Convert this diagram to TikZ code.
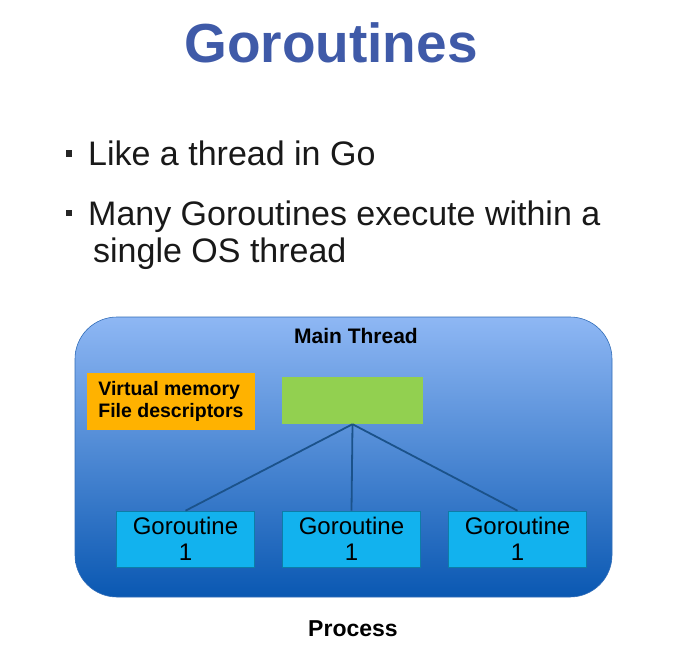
\documentclass[tikz,border=0pt]{standalone}
\usepackage{fontspec}
\setmainfont{Liberation Sans}
\usepackage{xcolor}
\usetikzlibrary{shapes.geometric, arrows}
\definecolor{titleblue}{HTML}{3F5AA8}
\definecolor{boxtop}{HTML}{8EB7F4}
\definecolor{boxmid}{HTML}{3A80D9}
\definecolor{boxbottom}{HTML}{0A58B2}
\definecolor{goblue}{HTML}{12B2EE}
\definecolor{linkblue}{HTML}{1B528A}
\definecolor{memorange}{HTML}{FFB200}
\definecolor{stackgreen}{HTML}{92D050}
\tikzstyle{processbox} = [rectangle,
    rounded corners=42pt,
    minimum width=537pt,
    minimum height=280pt,
    draw=boxmid!85!black,
    line width=0.6pt,
    top color=boxtop,
    middle color=boxmid,
    bottom color=boxbottom]
\tikzstyle{goroutine} = [rectangle,
    minimum width=138pt,
    minimum height=56pt,
    inner sep=2pt,
    align=center,
    draw=goblue!70!black,
    line width=0.6pt,
    fill=goblue,
    font=\fontsize{24}{26}\selectfont]
\tikzstyle{memory} = [rectangle,
    minimum width=168pt,
    minimum height=57pt,
    inner xsep=10pt,
    align=left,
    fill=memorange,
    font=\bfseries\fontsize{19.5}{22}\selectfont]
\tikzstyle{stack} = [rectangle,
    minimum width=141pt,
    minimum height=47pt,
    fill=stackgreen]
\tikzstyle{bulletsq} = [rectangle,
    minimum size=6.5pt,
    inner sep=0pt,
    fill=black!85]
\tikzstyle{bullettext} = [anchor=base west,
    inner sep=0pt,
    text=black!90,
    font=\fontsize{34}{37}\selectfont]
\tikzstyle{link} = [linkblue, line width=1.8pt]

\begin{document}
\begin{tikzpicture}[x=1pt, y=-1pt, node distance=166pt]
        \fill[white] (0,0) rectangle (691,664);
        \useasboundingbox (0,0) rectangle (691,664);

        \node (title) [anchor=base, inner sep=0pt, text=titleblue,
            font=\bfseries\fontsize{55}{60}\selectfont] at (331,62) {Goroutines};

        \node (dot1) [bulletsq] at (69,153.5) {};
        \node (item1) [bullettext] at (88,165) {Like a thread in Go};
        \node (dot2) [bulletsq] at (69,213) {};
        \node (item2) [bullettext] at (88,225) {Many Goroutines execute within a};
        \node (item2b) [bullettext] at (93,262) {single OS thread};

        \node (process) [processbox] at (343.5,457) {};
        \node (mainlabel) [anchor=base, inner sep=0pt,
            font=\bfseries\fontsize{21}{24}\selectfont] at (356,343) {Main Thread};

        \node (memory) [memory] at (171,401.5) {Virtual memory\\File descriptors};
        \node (stack) [stack] at (352.5,400.5) {};

        \node (gr2) [goroutine] at (351.5,539) {Goroutine\\1};
        \node (gr1) [goroutine, left of=gr2] {Goroutine\\1};
        \node (gr3) [goroutine, right of=gr2] {Goroutine\\1};

        \node (proclabel) [anchor=base, inner sep=0pt,
            font=\bfseries\fontsize{23}{26}\selectfont] at (353,636) {Process};

        \draw [link] (stack.south) -- (gr1.north);
        \draw [link] (stack.south) -- (gr2.north);
        \draw [link] (stack.south) -- (gr3.north);
    \end{tikzpicture}
\end{document}
